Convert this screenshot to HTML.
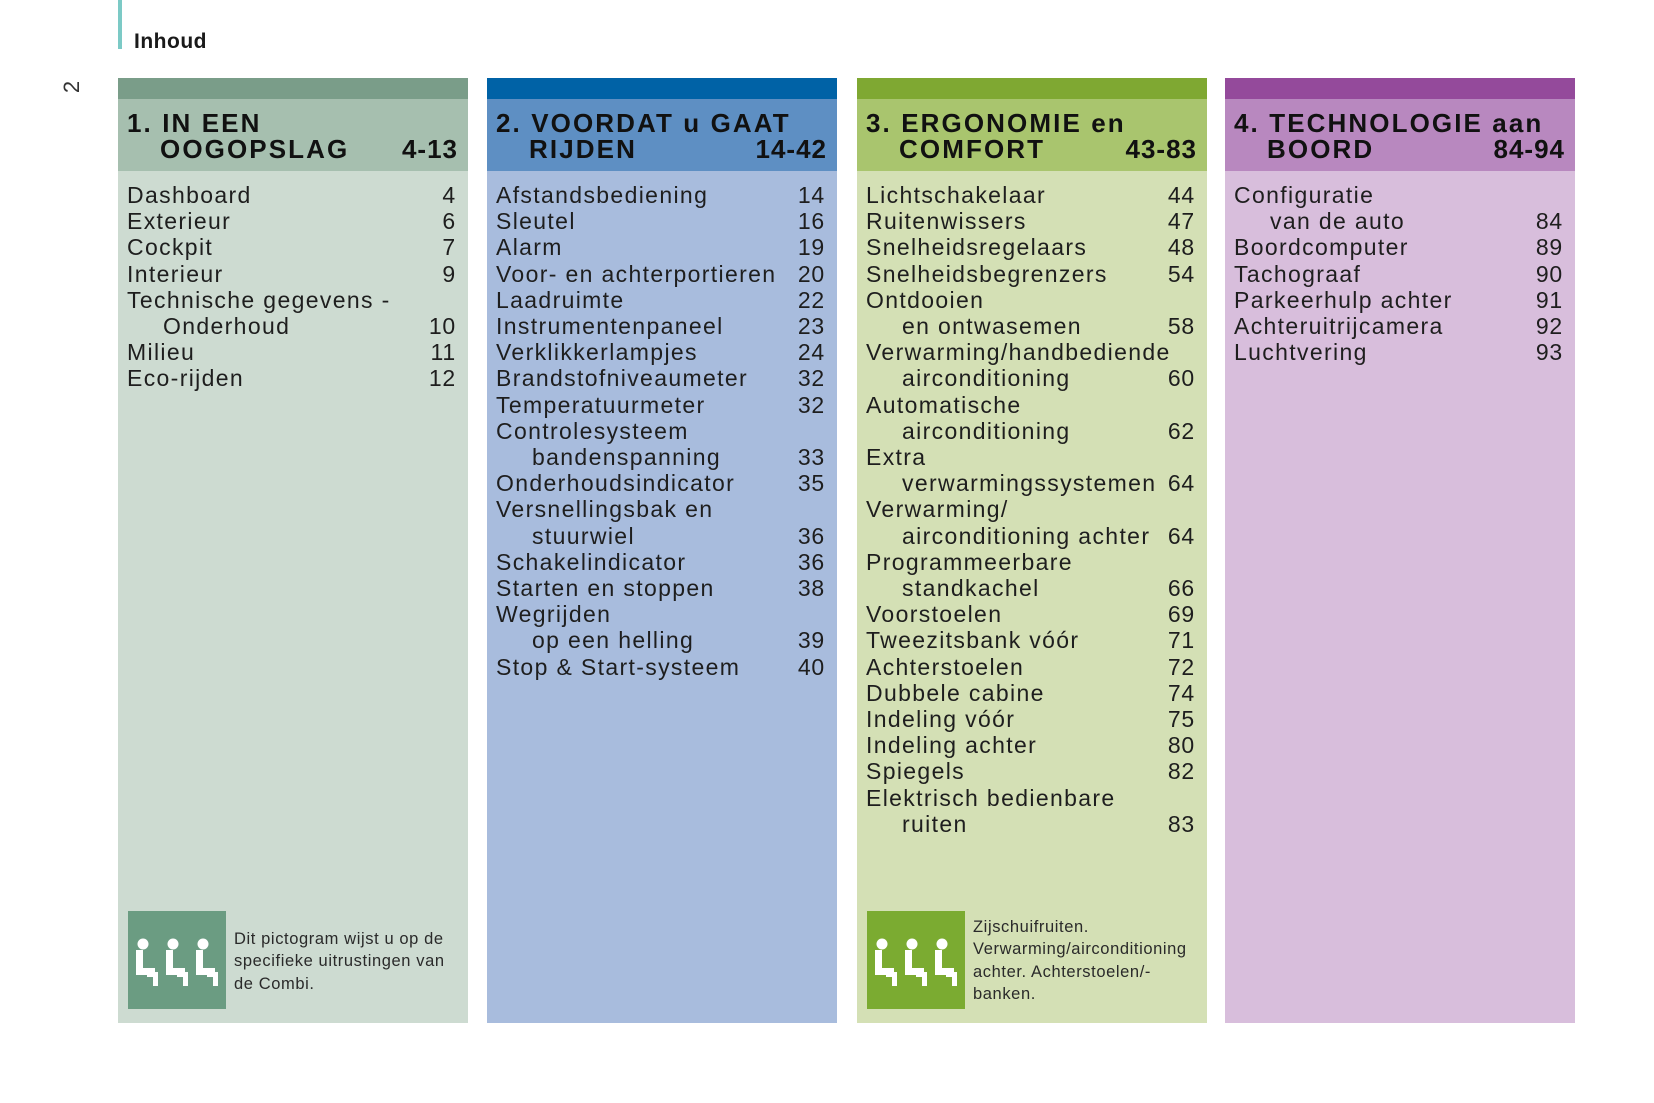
<!DOCTYPE html>
<html><head><meta charset="utf-8"><style>
*{margin:0;padding:0;box-sizing:border-box}
body{width:1654px;height:1103px;background:#fff;position:relative;overflow:hidden;font-family:"Liberation Sans",Arial,sans-serif;color:#1e1e1e}
.vl{position:absolute;left:118px;top:0;width:4px;height:49px;background:#7ccac6}
.ttl{position:absolute;left:134px;top:30px;font-weight:bold;font-size:21px;color:#1a1a1a;letter-spacing:0.5px}
.pn{position:absolute;left:66px;top:74px;font-size:22px;transform:rotate(-90deg);color:#333}
.col{position:absolute;top:78px;width:350px;height:945px}
.bar{height:21px}
.hd{height:72px;padding:12px 10px 0 9px;font-weight:bold;font-size:26px;line-height:25.5px;color:#111;letter-spacing:2.1px;white-space:nowrap}
.hd div{display:flex;justify-content:space-between}
.hd .i{padding-left:33px}
.hd span:last-child{letter-spacing:1px}
.bd{height:852px;padding:11px 12px 0 9px;font-size:23px;line-height:26.2px;position:relative}
.r{display:flex;justify-content:space-between;white-space:nowrap;letter-spacing:1.35px}
.r span:last-child{letter-spacing:0.8px}
.r.i span:first-child{padding-left:36px}
.ic{position:absolute;left:10px;top:740px;width:98px;height:98px}
.nt{position:absolute;left:116px;font-size:16.5px;line-height:22.3px;color:#2a2a2a;letter-spacing:0.6px;white-space:nowrap}
</style></head><body>
<div class="vl"></div><div class="ttl">Inhoud</div><div class="pn">2</div>

<div class="col" style="left:118px">
<div class="bar" style="background:#7a9d89"></div>
<div class="hd" style="background:#a6bfaf"><div>1. IN EEN</div><div class="i"><span>OOGOPSLAG</span><span>4-13</span></div></div>
<div class="bd" style="background:#cddbd1">
<div class="r"><span>Dashboard</span><span>4</span></div>
<div class="r"><span>Exterieur</span><span>6</span></div>
<div class="r"><span>Cockpit</span><span>7</span></div>
<div class="r"><span>Interieur</span><span>9</span></div>
<div class="r"><span>Technische gegevens -</span><span></span></div>
<div class="r i"><span>Onderhoud</span><span>10</span></div>
<div class="r"><span>Milieu</span><span>11</span></div>
<div class="r"><span>Eco-rijden</span><span>12</span></div>
<svg class="ic" viewBox="0 0 98 98"><rect width="98" height="98" fill="#6b9c82"/>
<g fill="#fff"><circle cx="15" cy="33" r="5.5"/><path d="M8 39h7v18h12v7H8z"/><path d="M19 61h11v14h-5v-9h-6z"/>
<circle cx="45" cy="33" r="5.5"/><path d="M38 39h7v18h12v7H38z"/><path d="M49 61h11v14h-5v-9h-6z"/>
<circle cx="75" cy="33" r="5.5"/><path d="M68 39h7v18h12v7H68z"/><path d="M79 61h11v14h-5v-9h-6z"/></g></svg>
<div class="nt" style="top:757px">Dit pictogram wijst u op de<br>specifieke uitrustingen van<br>de Combi.</div>
</div></div>

<div class="col" style="left:487px">
<div class="bar" style="background:#0062a6"></div>
<div class="hd" style="background:#5e8fc3"><div>2. VOORDAT u GAAT</div><div class="i"><span>RIJDEN</span><span>14-42</span></div></div>
<div class="bd" style="background:#a8bcdd">
<div class="r"><span>Afstandsbediening</span><span>14</span></div>
<div class="r"><span>Sleutel</span><span>16</span></div>
<div class="r"><span>Alarm</span><span>19</span></div>
<div class="r"><span>Voor- en achterportieren</span><span>20</span></div>
<div class="r"><span>Laadruimte</span><span>22</span></div>
<div class="r"><span>Instrumentenpaneel</span><span>23</span></div>
<div class="r"><span>Verklikkerlampjes</span><span>24</span></div>
<div class="r"><span>Brandstofniveaumeter</span><span>32</span></div>
<div class="r"><span>Temperatuurmeter</span><span>32</span></div>
<div class="r"><span>Controlesysteem</span><span></span></div>
<div class="r i"><span>bandenspanning</span><span>33</span></div>
<div class="r"><span>Onderhoudsindicator</span><span>35</span></div>
<div class="r"><span>Versnellingsbak en</span><span></span></div>
<div class="r i"><span>stuurwiel</span><span>36</span></div>
<div class="r"><span>Schakelindicator</span><span>36</span></div>
<div class="r"><span>Starten en stoppen</span><span>38</span></div>
<div class="r"><span>Wegrijden</span><span></span></div>
<div class="r i"><span>op een helling</span><span>39</span></div>
<div class="r"><span>Stop &amp; Start-systeem</span><span>40</span></div>
</div></div>

<div class="col" style="left:857px">
<div class="bar" style="background:#7fa832"></div>
<div class="hd" style="background:#a9c56e"><div>3. ERGONOMIE en</div><div class="i"><span>COMFORT</span><span>43-83</span></div></div>
<div class="bd" style="background:#d4e0b5">
<div class="r"><span>Lichtschakelaar</span><span>44</span></div>
<div class="r"><span>Ruitenwissers</span><span>47</span></div>
<div class="r"><span>Snelheidsregelaars</span><span>48</span></div>
<div class="r"><span>Snelheidsbegrenzers</span><span>54</span></div>
<div class="r"><span>Ontdooien</span><span></span></div>
<div class="r i"><span>en ontwasemen</span><span>58</span></div>
<div class="r"><span>Verwarming/handbediende</span><span></span></div>
<div class="r i"><span>airconditioning</span><span>60</span></div>
<div class="r"><span>Automatische</span><span></span></div>
<div class="r i"><span>airconditioning</span><span>62</span></div>
<div class="r"><span>Extra</span><span></span></div>
<div class="r i"><span>verwarmingssystemen</span><span>64</span></div>
<div class="r"><span>Verwarming/</span><span></span></div>
<div class="r i"><span>airconditioning achter</span><span>64</span></div>
<div class="r"><span>Programmeerbare</span><span></span></div>
<div class="r i"><span>standkachel</span><span>66</span></div>
<div class="r"><span>Voorstoelen</span><span>69</span></div>
<div class="r"><span>Tweezitsbank vóór</span><span>71</span></div>
<div class="r"><span>Achterstoelen</span><span>72</span></div>
<div class="r"><span>Dubbele cabine</span><span>74</span></div>
<div class="r"><span>Indeling vóór</span><span>75</span></div>
<div class="r"><span>Indeling achter</span><span>80</span></div>
<div class="r"><span>Spiegels</span><span>82</span></div>
<div class="r"><span>Elektrisch bedienbare</span><span></span></div>
<div class="r i"><span>ruiten</span><span>83</span></div>
<svg class="ic" viewBox="0 0 98 98"><rect width="98" height="98" fill="#7bab31"/>
<g fill="#fff"><circle cx="15" cy="33" r="5.5"/><path d="M8 39h7v18h12v7H8z"/><path d="M19 61h11v14h-5v-9h-6z"/>
<circle cx="45" cy="33" r="5.5"/><path d="M38 39h7v18h12v7H38z"/><path d="M49 61h11v14h-5v-9h-6z"/>
<circle cx="75" cy="33" r="5.5"/><path d="M68 39h7v18h12v7H68z"/><path d="M79 61h11v14h-5v-9h-6z"/></g></svg>
<div class="nt" style="top:745px">Zijschuifruiten.<br>Verwarming/airconditioning<br>achter. Achterstoelen/-<br>banken.</div>
</div></div>

<div class="col" style="left:1225px">
<div class="bar" style="background:#944a9b"></div>
<div class="hd" style="background:#b888bf"><div>4. TECHNOLOGIE aan</div><div class="i"><span>BOORD</span><span>84-94</span></div></div>
<div class="bd" style="background:#d8bedc">
<div class="r"><span>Configuratie</span><span></span></div>
<div class="r i"><span>van de auto</span><span>84</span></div>
<div class="r"><span>Boordcomputer</span><span>89</span></div>
<div class="r"><span>Tachograaf</span><span>90</span></div>
<div class="r"><span>Parkeerhulp achter</span><span>91</span></div>
<div class="r"><span>Achteruitrijcamera</span><span>92</span></div>
<div class="r"><span>Luchtvering</span><span>93</span></div>
</div></div>
</body></html>
